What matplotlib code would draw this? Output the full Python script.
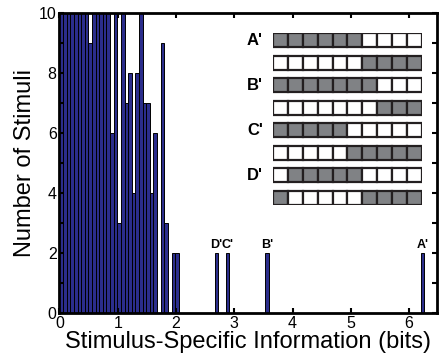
import matplotlib.pyplot as plt
import numpy as np
from matplotlib.patches import Rectangle

plt.rcParams['font.family'] = ['Liberation Sans', 'DejaVu Sans']

# histogram data (bins of equal width starting at 0)
bin_width = 0.062
counts_low = [10, 10, 10, 10, 10, 10, 10, 10, 9, 10, 10, 10, 10, 10,
              6, 10, 3, 10, 7, 8, 4, 8, 10, 7, 7, 4, 6, 0, 9, 3, 0, 2, 2]
peak_names = ["A'", "B'", "C'", "D'"]
peak_bins = [100, 57, 46, 43]
peak_counts = [2, 2, 2, 2]

# inset patterns (1 = gray square)
pattern_rows = [
    "1111110000",
    "0000001111",
    "1111111000",
    "0000000111",
    "1111100000",
    "0000011111",
    "0111110000",
    "1000001111",
]
pattern_names = ["A'", "", "B'", "", "C'", "", "D'", ""]

xticks = [0, 1, 2, 3, 4, 5, 6]
yticks = [0, 1, 2, 3, 4, 5, 6, 7, 8, 9, 10]

bar_color = '#2b2d8c'

fig = plt.figure(figsize=(4.4, 3.62), dpi=100)
ax = fig.add_axes([0.1352, 0.1354, 0.857, 0.8287])

# low-information bars
x_low = np.arange(len(counts_low)) * bin_width
ax.bar(x_low, counts_low, width=bin_width, align='edge', color=bar_color,
       edgecolor='black', linewidth=0.7)

# isolated high-information bars
x_peak = np.array(peak_bins) * bin_width
ax.bar(x_peak, peak_counts, width=bin_width, align='edge', color=bar_color,
       edgecolor='black', linewidth=0.7)
for name, xp, c in zip(peak_names, x_peak, peak_counts):
    ax.text(xp + bin_width / 2, c + 0.08, name, ha='center', va='bottom',
            fontsize=9, fontweight='bold')

ax.set_xlim(0, 6.47)
ax.set_ylim(0, 10)
ax.set_xticks(xticks)
ax.set_yticks(yticks)
ax.set_yticklabels([str(t) if t % 2 == 0 else '' for t in yticks])
ax.tick_params(direction='in', length=3.5, width=1.5, top=True, right=True,
               labelsize=11.5, pad=2)
for s in ax.spines.values():
    s.set_linewidth(2)
ax.set_xlabel('Stimulus-Specific Information (bits)', fontsize=17, labelpad=0)
ax.set_ylabel('Number of Stimuli', fontsize=17, labelpad=2)

# inset with stimulus patterns
ins = ax.inset_axes([0.5668, 0.36, 0.3934, 0.5733])
ins.set_xlim(0, 10)
row_h = 0.633
ins.set_ylim(0, 7 + row_h)
ins.axis('off')
for i, row in enumerate(pattern_rows):
    y0 = 7 - i
    for j, v in enumerate(row):
        ins.add_patch(Rectangle((j, y0), 1, row_h,
                                facecolor='#808285' if v == '1' else 'white',
                                edgecolor='#231f20', linewidth=1.6))
    if pattern_names[i]:
        ins.text(-0.7, y0 + row_h / 2, pattern_names[i], ha='right',
                 va='center', fontsize=12, fontweight='bold')

fig.savefig('out.png', dpi=100)
